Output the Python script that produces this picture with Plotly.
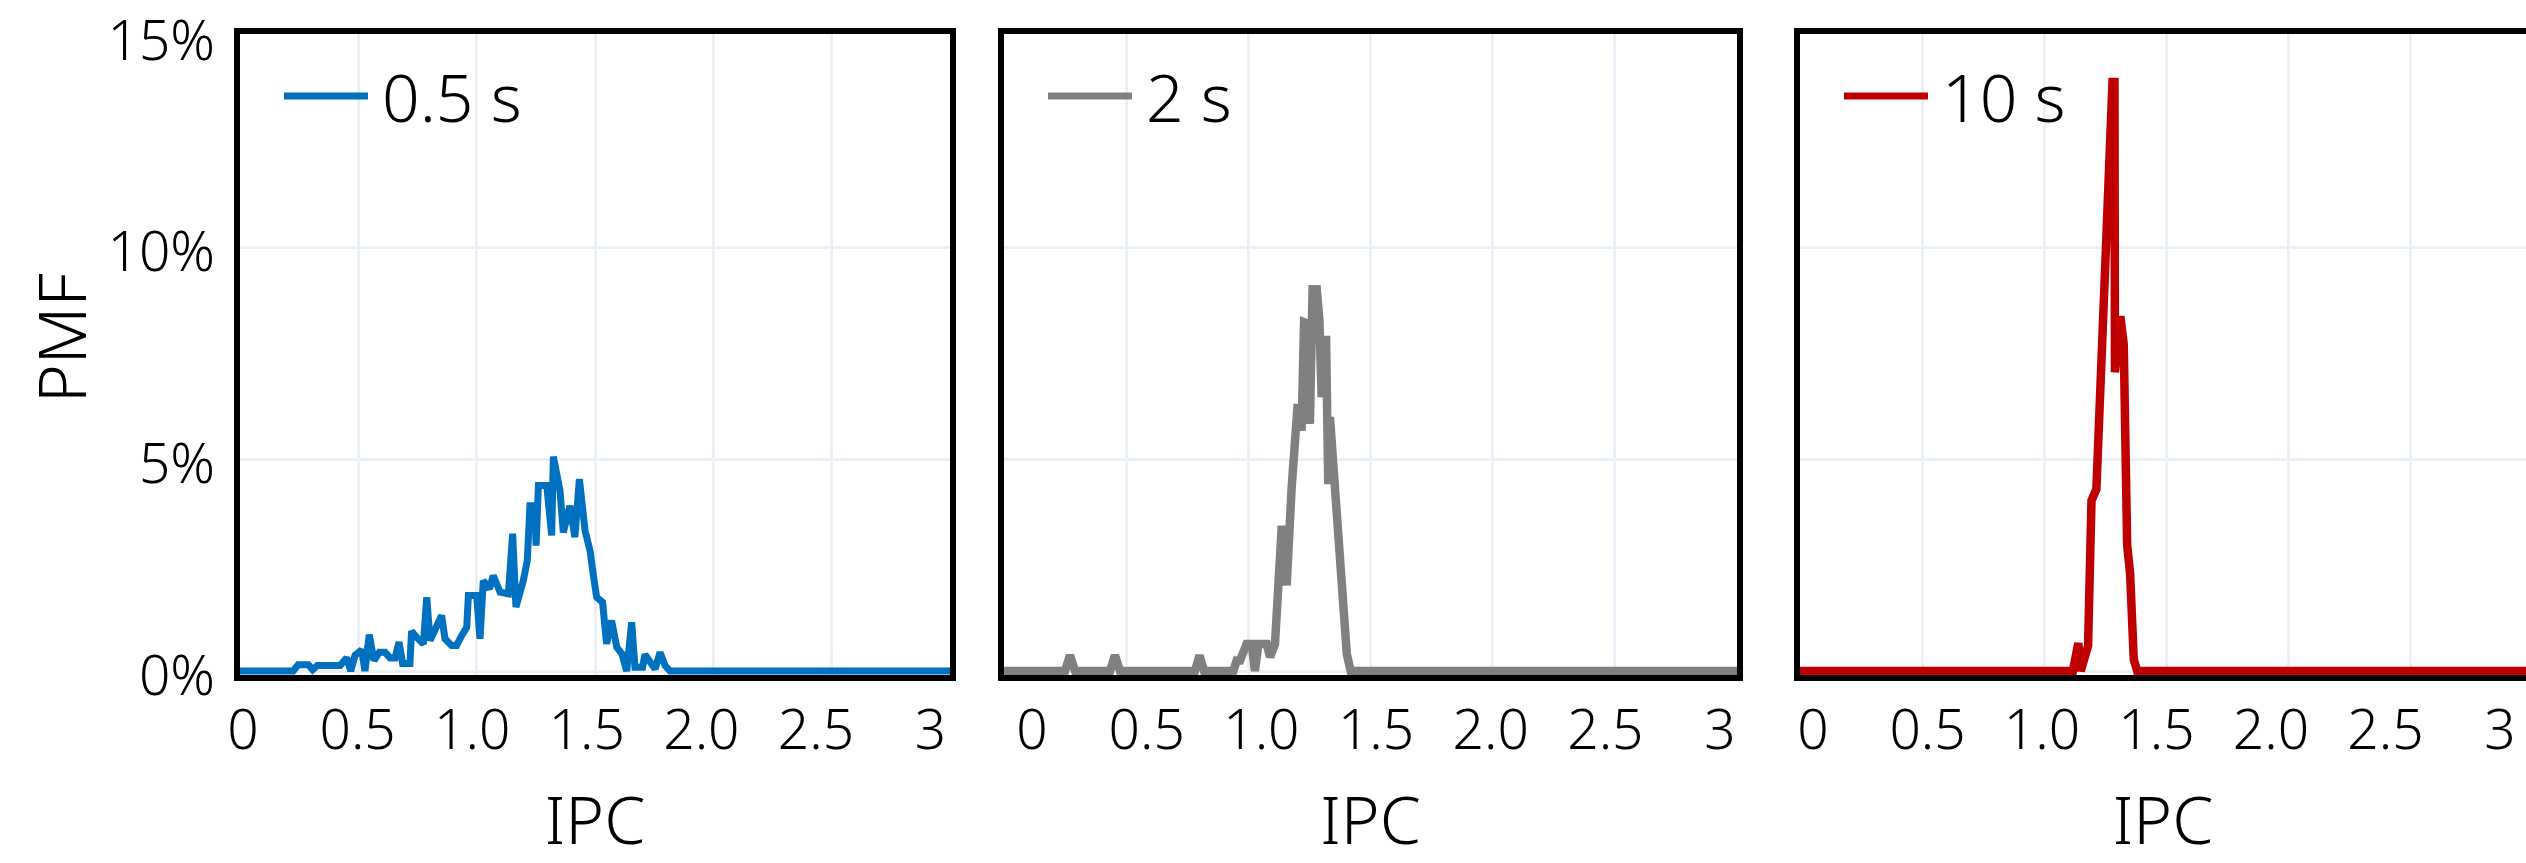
import plotly.graph_objects as go

W, H = 2526, 863

# ---------------- data ----------------
series_names = ["0.5 s", "2 s", "10 s"]
series_colors = ["#0070C0", "#808080", "#C00000"]
series_widths = [7, 8.5, 8.5]

ipc_05 = [0, 0.225, 0.246, 0.289, 0.307, 0.327, 0.423, 0.451, 0.468, 0.486,
          0.514, 0.528, 0.546, 0.566, 0.589, 0.613, 0.634, 0.655, 0.672, 0.687,
          0.718, 0.725, 0.744, 0.775, 0.789, 0.803, 0.852, 0.866, 0.894, 0.915,
          0.937, 0.958, 0.965, 1.000, 1.014, 1.028, 1.054, 1.070, 1.099, 1.134,
          1.152, 1.166, 1.197, 1.214, 1.225, 1.246, 1.251, 1.261, 1.296, 1.317,
          1.324, 1.352, 1.366, 1.394, 1.415, 1.434, 1.458, 1.479, 1.496, 1.507,
          1.532, 1.549, 1.570, 1.592, 1.613, 1.634, 1.655, 1.669, 1.701, 1.711,
          1.754, 1.775, 1.796, 1.817, 3.0]
pmf_05 = [0, 0, 0.15, 0.15, 0.03, 0.13, 0.13, 0.31, 0, 0.37,
          0.50, 0, 0.86, 0.25, 0.44, 0.44, 0.31, 0.31, 0.68, 0.18,
          0.18, 0.94, 0.81, 0.64, 1.74, 0.72, 1.31, 0.76, 0.60, 0.60,
          0.84, 1.03, 1.78, 1.78, 0.76, 2.13, 1.94, 2.25, 1.86, 1.82,
          3.24, 1.51, 2.13, 2.61, 3.90, 3.90, 2.96, 4.38, 4.38, 3.20,
          5.06, 4.26, 3.27, 3.90, 3.16, 4.53, 3.31, 2.84, 2.14, 1.74,
          1.62, 0.64, 1.19, 0.56, 0.41, 0, 1.15, 0.09, 0.09, 0.39,
          0.05, 0.44, 0.13, 0, 0]

ipc_2 = [0, 0.250, 0.270, 0.291, 0.434, 0.454, 0.475, 0.782, 0.800, 0.819,
         0.939, 0.952, 0.966, 0.993, 1.014, 1.027, 1.041, 1.075, 1.089, 1.109,
         1.137, 1.157, 1.177, 1.202, 1.218, 1.228, 1.245, 1.252, 1.263, 1.280,
         1.291, 1.300, 1.318, 1.327, 1.334, 1.355, 1.375, 1.403, 1.419, 3.0]
pmf_2 = [0, 0, 0.37, 0, 0, 0.37, 0, 0, 0.37, 0,
         0, 0.25, 0.25, 0.64, 0.64, 0, 0.64, 0.64, 0.33, 0.64,
         3.43, 2.02, 4.30, 6.30, 5.67, 8.23, 8.19, 5.83, 9.01, 9.01,
         8.27, 6.46, 7.91, 4.41, 5.99, 4.45, 2.53, 0.40, 0, 0]

ipc_10 = [0, 1.117, 1.139, 1.149, 1.179, 1.183, 1.193, 1.213, 1.230, 1.254,
          1.279, 1.287, 1.289, 1.311, 1.325, 1.339, 1.351, 1.366, 1.380, 3.0]
pmf_10 = [0, 0, 0.66, 0, 0.60, 2.97, 4.02, 4.29, 6.66, 10.74,
          13.9, 13.9, 7.05, 8.37, 7.71, 2.97, 2.31, 0.27, 0, 0]

x_series = [ipc_05, ipc_2, ipc_10]
y_series = [pmf_05, pmf_2, pmf_10]

x_tick_vals = [0, 0.5, 1.0, 1.5, 2.0, 2.5, 3.0]
x_tick_text = ["0", "0.5", "1.0", "1.5", "2.0", "2.5", "3"]
y_tick_vals = [0, 0.05, 0.10, 0.15]
y_tick_text = ["0%", "5%", "10%", "15%"]
x_title = "IPC"
y_title = "PMF"

# ---------------- layout geometry (pixels) ----------------
FONT = "Noto Sans"
WEIGHT = 350
GRID = "#EBF0F8"
panels_px = [(240, 950), (1004, 1737), (1800, 2526)]
grid_ranges = [[0, 3.0], [0, 3.0], [0, 3.0 * 726 / 733]]
label_ranges = [[-0.0131, 3.085], [-0.122, 3.074], [-0.0568, 3.114]]
plot_top, plot_bot = 34.45, 675.0
y_range = [-0.00094, 0.1502]

def px2x(px):
    return px / W

def px2y(py):
    return 1 - py / H

ydom = [px2y(plot_bot), px2y(plot_top)]
tfont = dict(family=FONT, size=55, color="black", weight=WEIGHT)
bfont = dict(family=FONT, size=66, color="black", weight=WEIGHT)

fig = go.Figure()
for i in range(3):
    sfx = "" if i == 0 else str(i + 1)
    fig.add_trace(go.Scatter(
        x=x_series[i], y=[v / 100 for v in y_series[i]],
        mode="lines", name=series_names[i],
        line=dict(color=series_colors[i], width=series_widths[i]),
        xaxis="x" + sfx, yaxis="y" + sfx, showlegend=False, hoverinfo="skip",
    ))
# empty traces so the overlaid tick-label axes get drawn
for i in range(3):
    yname = "y" if i == 0 else "y%d" % (i + 1)
    fig.add_trace(go.Scatter(x=[], y=[], xaxis="x%d" % (i + 4), yaxis=yname,
                             showlegend=False, hoverinfo="skip"))

layout = dict(
    width=W, height=H, margin=dict(l=0, r=0, t=0, b=0, autoexpand=False),
    paper_bgcolor="white", plot_bgcolor="white",
    font=dict(family=FONT, color="black", weight=WEIGHT),
    showlegend=False,
)

for i in range(3):
    gx = "xaxis" if i == 0 else "xaxis%d" % (i + 1)
    ya = "yaxis" if i == 0 else "yaxis%d" % (i + 1)
    yname = "y" if i == 0 else "y%d" % (i + 1)
    xname = "x" if i == 0 else "x%d" % (i + 1)
    lx = "xaxis%d" % (i + 4)
    x0, x1 = panels_px[i]
    dom = [px2x(x0), min(1.0, px2x(x1))]
    layout[gx] = dict(
        domain=dom, anchor=yname, range=grid_ranges[i], autorange=False,
        automargin=False,
        tickvals=x_tick_vals, showticklabels=False, ticks="",
        showgrid=True, gridcolor=GRID, gridwidth=3, zeroline=False,
        showline=True, linecolor="black", linewidth=6, mirror=True,
    )
    layout[lx] = dict(
        overlaying=xname, anchor=yname, side="bottom",
        range=label_ranges[i], autorange=False, automargin=False,
        tickvals=x_tick_vals, ticktext=x_tick_text,
        showgrid=False, zeroline=False, showline=False,
        ticks="outside", ticklen=7, tickcolor="rgba(0,0,0,0)",
        tickfont=tfont, ticklabeloverflow="allow",
        title=dict(text=x_title, font=bfont, standoff=70),
    )
    layout[ya] = dict(
        domain=ydom, anchor=xname, range=y_range, autorange=False,
        automargin=False,
        tickvals=y_tick_vals, ticktext=y_tick_text,
        showticklabels=(i == 0), ticklabeloverflow="allow", ticklabelshift=5,
        ticks="outside" if i == 0 else "", ticklen=8, tickcolor="rgba(0,0,0,0)",
        tickfont=tfont,
        showgrid=True, gridcolor=GRID, gridwidth=3,
        zeroline=True, zerolinecolor=GRID, zerolinewidth=3,
        showline=True, linecolor="black", linewidth=6, mirror=True,
    )

# legend samples (manual, one per panel) and y-axis title
shapes = []
annotations = []
leg_y = px2y(96)
for i in range(3):
    x0 = panels_px[i][0]
    shapes.append(dict(
        type="line", xref="paper", yref="paper",
        x0=px2x(x0 + 44), x1=px2x(x0 + 128), y0=leg_y, y1=leg_y,
        line=dict(color=series_colors[i], width=7),
    ))
    annotations.append(dict(
        xref="paper", yref="paper", x=px2x(x0 + 140), y=leg_y,
        xanchor="left", yanchor="middle", showarrow=False,
        text=series_names[i], font=bfont,
    ))
annotations.append(dict(
    xref="paper", yref="paper", x=px2x(60), y=px2y(338),
    xanchor="center", yanchor="middle", showarrow=False, textangle=-90,
    text=y_title, font=bfont,
))
layout["shapes"] = shapes
layout["annotations"] = annotations

fig.update_layout(**layout)
fig.write_html("out.html")
